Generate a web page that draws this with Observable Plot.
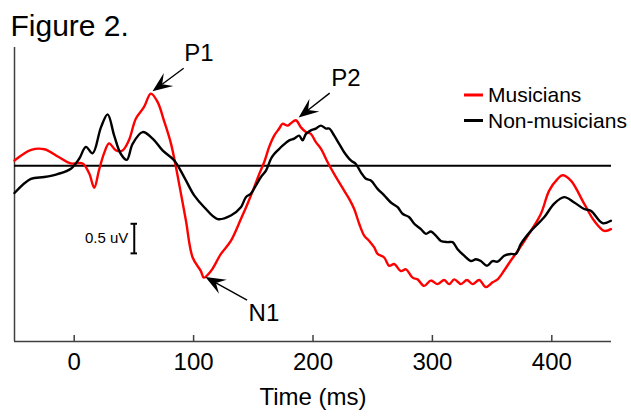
<!DOCTYPE html>
<html>
<head>
<meta charset="utf-8">
<script src="https://cdn.jsdelivr.net/npm/d3@7"></script>
<script src="https://cdn.jsdelivr.net/npm/@observablehq/plot@0.6"></script>
<style>
  html, body { margin: 0; padding: 0; background: #fff; }
</style>
</head>
<body>
<div id="chart"></div>
<script>
// ---- data ----
const seriesNames = ["Musicians", "Non-musicians"];
const seriesColors = ["#ff0000", "#000000"];

const musiciansTime = [-50, -36, -25, -13, -3, 7, 12.6, 16.8, 20.7, 25, 29.2, 35, 40.5, 45.8, 51.7, 58.4, 64.2, 69.8, 75.1, 81, 85.2, 89.4, 93.6, 99.2, 106.1, 108.6, 114.5, 122.9, 131.2,
  139.6, 145.2, 150.8, 154.9, 159.1, 163.3, 167.5, 171.7, 174.5, 178.7, 181.5, 185.7, 189.9, 194.1, 198.2, 202.4, 206.6, 210.8, 213.6, 217.8, 221.9, 226.1, 230.3, 234.5, 238.7, 242.9, 247.1, 251.3, 254.1, 259.6, 263.8, 268, 273.6, 277.8, 283.4, 287.6, 293.1, 298.7, 304.4, 309.9, 314.1, 318.3, 323.9, 328.9, 333.7, 339.2, 344.8, 350.4, 354.6, 360.1, 365.7, 371.4,
  382.5, 390.9, 397.8, 404.9, 409, 416, 427.1, 435.5, 443.9, 449.5];
const musiciansUV = [0.09, 0.27, 0.28, 0.15, 0.04, 0.04, -0.13, -0.37, -0.08, 0.21, 0.38, 0.26, 0.26, 0.43, 0.80, 0.99, 1.22, 1.08, 0.77, 0.38, -0.02, -0.47, -0.93, -1.55, -1.78, -1.89, -1.78, -1.49, -1.27,
  -0.90, -0.64, -0.36, -0.14, 0.06, 0.32, 0.51, 0.63, 0.71, 0.68, 0.72, 0.77, 0.65, 0.57, 0.54, 0.40, 0.29, 0.12, 0.01, -0.14, -0.28, -0.42, -0.56, -0.73, -0.98, -1.18, -1.27, -1.38, -1.49, -1.55, -1.69, -1.66, -1.78, -1.75, -1.89, -1.92, -2.03, -1.94, -2.00, -1.93, -2.00, -1.92, -2.00, -1.93, -2.00, -1.93, -2.05, -1.97, -1.92, -1.77, -1.60, -1.44,
  -1.10, -0.81, -0.42, -0.22, -0.16, -0.25, -0.64, -0.93, -1.10, -1.07];

const nonMusiciansTime = [-50, -36.3, -25.1, -13.9, -2.8, 4.2, 9.8, 15.4, 22.4, 28, 33.5, 39.1, 44.1, 48.9, 57.3, 65.7, 74, 83.8, 92.1, 100.5, 108.9, 120.1, 131.2,
  139.6, 143.8, 148, 152.2, 156.4, 160.6, 164.8, 167.5, 170.4, 174.5, 180.1, 184.3, 188.4, 191.3, 194.1, 198.2, 202.4, 206.6, 210.8, 213.6, 217.8, 221.9, 226.1, 231.7, 235.9, 240.1, 244.3, 248.5, 254.1, 259.6, 265.2, 270.9, 275, 280.6, 284.8, 290.4, 294.6, 298.8, 302.9, 307.1, 312.7, 316.9, 321.1, 326.6, 332.2, 336.4, 340.6, 345.6, 350.4, 354.6, 360.1, 365.7, 369.9, 374.1,
  382.5, 393.6, 402, 410.4, 418.8, 427.1, 432.7, 442.5, 449.5];
const nonMusiciansUV = [-0.46, -0.22, -0.19, -0.14, -0.05, 0.12, 0.32, 0.21, 0.65, 0.87, 0.51, 0.20, 0.10, 0.37, 0.57, 0.46, 0.26, 0.09, -0.19, -0.50, -0.70, -0.90, -0.84,
  -0.70, -0.53, -0.47, -0.33, -0.19, -0.08, 0.12, 0.20, 0.26, 0.34, 0.43, 0.46, 0.51, 0.43, 0.54, 0.60, 0.63, 0.68, 0.63, 0.63, 0.51, 0.37, 0.23, 0.09, 0.03, -0.11, -0.22, -0.25, -0.39, -0.50, -0.62, -0.70, -0.81, -0.87, -0.98, -1.07, -1.15, -1.11, -1.18, -1.27, -1.29, -1.29, -1.41, -1.52, -1.61, -1.58, -1.61, -1.69, -1.61, -1.62, -1.52, -1.49, -1.49, -1.32,
  -1.10, -0.87, -0.64, -0.53, -0.62, -0.73, -0.76, -0.97, -0.93];

const xTicks = [0, 100, 200, 300, 400];
const xDomain = [-50, 450];
const yDomain = [-2.97, 2.0];

// peak annotations: label, arrow tip (time, uV), arrow tail (time, uV), label position (time, uV)
const annLabels = ["P1", "P2", "N1"];
const annTipT = [66, 188.4, 110.3];
const annTipV = [1.25, 0.81, -1.89];
const annTailT = [92.1, 214.4, 145.2];
const annTailV = [1.64, 1.22, -2.28];
const annTextT = [104.4, 227.6, 158.9];
const annTextV = [1.90, 1.48, -2.50];

// scale bar
const scaleBarLabel = "0.5 uV";
const scaleBarT = 50.3;
const scaleBarV = [-1.48, -0.98];

const titleText = "Figure 2.";
const xLabel = "Time (ms)";

// ---- tables ----
const lines = [];
musiciansTime.forEach((t, i) => lines.push({series: seriesNames[0], t, v: musiciansUV[i]}));
nonMusiciansTime.forEach((t, i) => lines.push({series: seriesNames[1], t, v: nonMusiciansUV[i]}));
const anns = annLabels.map((label, i) => ({label, tipT: annTipT[i], tipV: annTipV[i], tailT: annTailT[i], tailV: annTailV[i], textT: annTextT[i], textV: annTextV[i]}));

const axisColor = "#404040";
const font = "'Liberation Sans', Arial, Helvetica, sans-serif";

function arrowHeads(index, scales) {
  const g = d3.create("svg:g");
  for (const a of anns) {
    const tx = scales.x(a.tipT), ty = scales.y(a.tipV);
    const sx = scales.x(a.tailT), sy = scales.y(a.tailV);
    const dx = sx - tx, dy = sy - ty, len = Math.hypot(dx, dy);
    const ux = dx / len, uy = dy / len, nx = -uy, ny = ux;
    const L = 20, W = 8, N = 12;
    const bx = tx + ux * L, by = ty + uy * L;
    const mx = tx + ux * N, my = ty + uy * N;
    g.append("line").attr("x1", sx).attr("y1", sy).attr("x2", mx).attr("y2", my)
      .attr("stroke", "#000").attr("stroke-width", 1.4);
    g.append("path")
      .attr("d", `M${tx},${ty}L${bx + nx * W},${by + ny * W}L${mx},${my}L${bx - nx * W},${by - ny * W}Z`)
      .attr("fill", "#000");
  }
  return g.node();
}

function legend(index, scales, values, dims) {
  const g = d3.create("svg:g").attr("text-anchor", "start");
  const right = dims.width - dims.marginRight;
  const x0 = right - 147, top = dims.marginTop + 48;
  seriesNames.forEach((name, i) => {
    const y = top + i * 25.5;
    g.append("line").attr("x1", x0).attr("x2", x0 + 19).attr("y1", y).attr("y2", y)
      .attr("stroke", seriesColors[i]).attr("stroke-width", 3);
    g.append("text").attr("x", x0 + 24).attr("y", y).attr("dy", "0.35em")
      .attr("text-anchor", "start")
      .attr("font-size", 21).attr("font-family", font).attr("fill", "#000").text(name);
  });
  return g.node();
}

const chart = Plot.plot({
  width: 631,
  height: 416,
  marginTop: 47,
  marginBottom: 75,
  marginLeft: 14,
  marginRight: 20,
  style: {fontFamily: font, background: "#fff", color: "#000"},
  x: {domain: xDomain, axis: null},
  y: {domain: yDomain, axis: null},
  color: {domain: seriesNames, range: seriesColors},
  marks: [
    // axes lines
    Plot.ruleX([xDomain[0]], {stroke: axisColor, strokeWidth: 1.5}),
    Plot.ruleY([yDomain[0]], {stroke: axisColor, strokeWidth: 1.5}),
    Plot.ruleX(xTicks, {stroke: axisColor, strokeWidth: 1.5, insetTop: 288}),
    Plot.axisX(xTicks, {tickSize: 0, tickPadding: 11, fontSize: 24, fill: "#000"}),
    Plot.text([xLabel], {frameAnchor: "bottom", dy: 46, lineAnchor: "top", fontSize: 24, fill: "#000"}),
    // zero line
    Plot.ruleY([0], {stroke: "#000", strokeWidth: 2}),
    // waveforms
    Plot.line(lines, {x: "t", y: "v", z: "series", stroke: "series", strokeWidth: 2.4, curve: "catmull-rom"}),
    // scale bar
    Plot.ruleX([scaleBarT], {y1: scaleBarV[0], y2: scaleBarV[1], stroke: "#000", strokeWidth: 2}),
    Plot.ruleY(scaleBarV, {x1: scaleBarT - 2.7, x2: scaleBarT + 2.7, stroke: "#000", strokeWidth: 2}),
    Plot.text([scaleBarLabel], {x: scaleBarT, y: (scaleBarV[0] + scaleBarV[1]) / 2, textAnchor: "end", dx: -6, fontSize: 15, fill: "#000"}),
    // annotations
    arrowHeads,
    Plot.text(anns, {x: "textT", y: "textV", text: "label", fontSize: 24, fill: "#000"}),
    // title
    Plot.text([titleText], {frameAnchor: "top-left", dx: -4, dy: -12, lineAnchor: "bottom", textAnchor: "start", fontSize: 30, fill: "#000"}),
    legend
  ]
});
document.getElementById("chart").appendChild(chart);
</script>
</body>
</html>
